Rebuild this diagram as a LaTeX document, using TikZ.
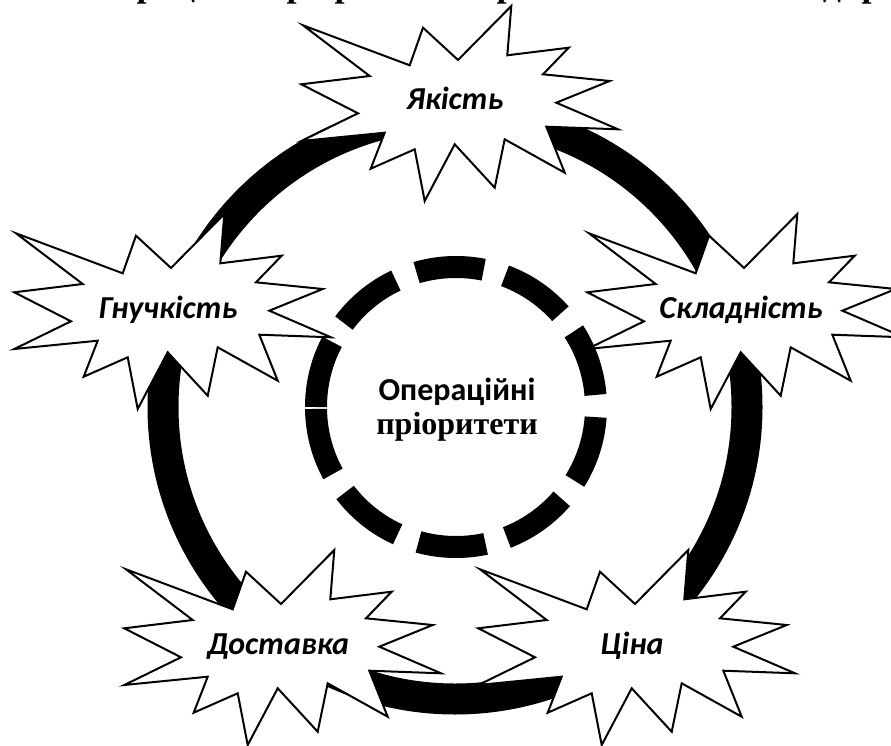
\documentclass[tikz,border=0pt]{standalone}
\usepackage{fontspec}
\setmainfont{Liberation Serif}
\newfontfamily\carlito{Carlito}
\tikzset{
  starline/.style={draw=black, line width=2pt, fill=white, line join=miter, miter limit=20},
  startext/.style={font=\carlito\bfseries\itshape\fontsize{32}{36}\selectfont, inner sep=0pt, anchor=base},
  ringline/.style={line width=31pt, draw=black},
  dashring/.style={line width=22pt, draw=black, dash pattern=on 67.8pt off 22.2pt},
  titletext/.style={font=\bfseries\fontsize{36}{40}\selectfont, inner sep=0pt, anchor=base},
  centertop/.style={font=\carlito\bfseries\fontsize{32}{36}\selectfont, inner sep=0pt, anchor=base},
  centerbot/.style={font=\bfseries\fontsize{32}{36}\selectfont, inner sep=0pt, anchor=base},
}
\newcommand{\explstar}[4]{%
  \begin{scope}[shift={(#2,#3)}]
    \draw[starline] (-152,-77.7) -- (-45.3,-37.7) -- (-32,-75.3) -- (3,-43) -- (56.3,-97) -- (52.3,-47.7) -- (113.7,-55.3) -- (88,-28.7) -- (154.7,-22) -- (101.3,-0.3) -- (163,26.3) -- (91.3,23.7) -- (109.7,69.7) -- (49.7,36.3) -- (39.7,84.7) -- (-0.3,41.3) -- (-30.3,98) -- (-40.3,46.3) -- (-84.3,65.7) -- (-70.3,29.7) -- (-153.7,38) -- (-97,10.3) -- (-153.7,-18.7) -- (-85.3,-27) -- cycle;
    \node[startext] (#1) at (0,7) {#4};
  \end{scope}}
\begin{document}
\begin{tikzpicture}[x=1pt,y=-1pt]
\useasboundingbox (0,0) rectangle (891,746);
\fill[white] (0,0) rectangle (891,746);
\node[titletext] (title) at (470,-3) {Рис. 1.2. Операційні пріоритети виробничої системи підприємства};
\draw[ringline] (455,407) circle[radius=292pt];
\explstar{quality}{455}{103}{Якість}
\explstar{flex}{168}{311}{Гнучкість}
\explstar{complex}{741}{311}{Складність}
\explstar{delivery}{278}{647}{Доставка}
\explstar{price}{632}{647}{Ціна}
\draw[dashring] (316,407) arc[start angle=180, end angle=-180, radius=140pt];
\node[centertop] (c1) at (457,400) {Операційні};
\node[centerbot] (c2) at (457,434) {пріоритети};
\end{tikzpicture}
\end{document}
